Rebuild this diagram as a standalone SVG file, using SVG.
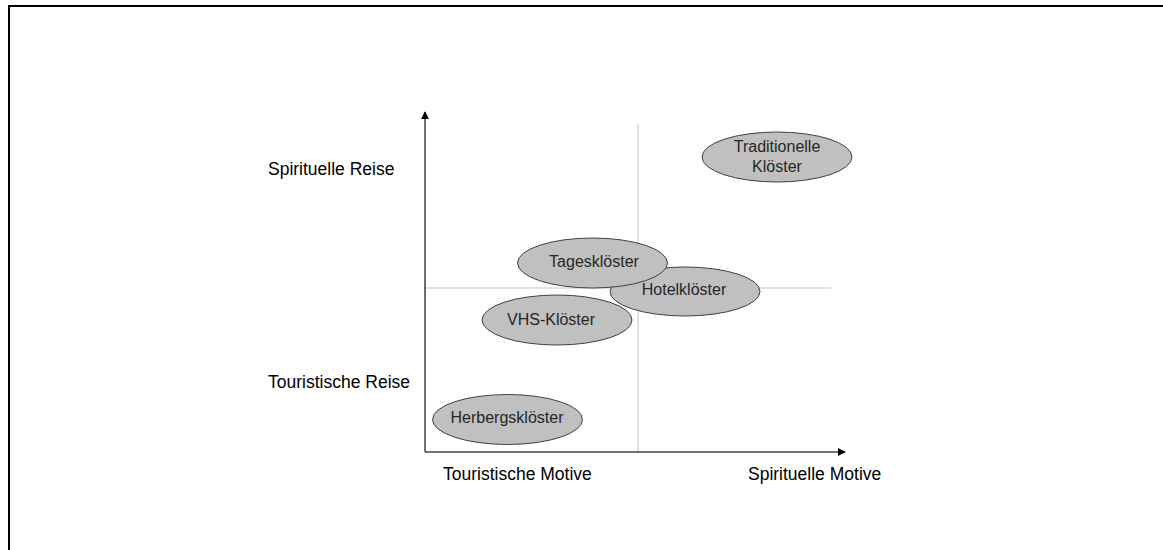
<svg xmlns="http://www.w3.org/2000/svg" width="1163" height="550" viewBox="0 0 1163 550">
<style>
.frame{stroke:#000;stroke-width:2;fill:none}
.grid{stroke:#c8c8c8;stroke-width:1;fill:none}
.axis{stroke:#404040;stroke-width:1.5;fill:none}
.node ellipse{fill:#c0c0c0;stroke:#404040;stroke-width:1}
.node text{font-family:"Liberation Sans",Arial,sans-serif;font-size:16px;fill:#262626;text-anchor:middle}
.lbl{font-family:"Liberation Sans",Arial,sans-serif;font-size:17.5px;fill:#000}
</style>
<defs>
<marker id="arr" viewBox="0 0 10 10" refX="9" refY="5" markerWidth="8" markerHeight="8" markerUnits="userSpaceOnUse" orient="auto">
<path d="M0,0 L10,5 L0,10 z" fill="#000"/>
</marker>
</defs>
<rect width="1163" height="550" fill="#fff"/>
<path class="frame" d="M9,550 L9,6 L1163,6"/>
<g id="connectors">
<line class="grid" x1="638" y1="124" x2="638" y2="452"/>
<line class="grid" x1="425" y1="288" x2="831" y2="288"/>
<line class="axis" x1="425" y1="452" x2="425" y2="112" marker-end="url(#arr)"/>
<line class="axis" x1="425" y1="452" x2="845" y2="452" marker-end="url(#arr)"/>
</g>
<g id="labels">
<text class="lbl" x="268" y="175">Spirituelle Reise</text>
<text class="lbl" x="268" y="388">Touristische Reise</text>
<text class="lbl" x="443" y="480">Touristische Motive</text>
<text class="lbl" x="748" y="480">Spirituelle Motive</text>
</g>
<g id="n-traditionelle" class="node">
<ellipse cx="777" cy="157" rx="75" ry="25"/>
<text x="777" y="152">Traditionelle</text>
<text x="777" y="172">Klöster</text>
</g>
<g id="n-hotel" class="node">
<ellipse cx="685" cy="291.5" rx="75" ry="24.5"/>
<text x="684" y="295">Hotelklöster</text>
</g>
<g id="n-tages" class="node">
<ellipse cx="592.5" cy="263" rx="75" ry="25"/>
<text x="594" y="267">Tagesklöster</text>
</g>
<g id="n-vhs" class="node">
<ellipse cx="557" cy="320" rx="75" ry="25"/>
<text x="551" y="325">VHS-Klöster</text>
</g>
<g id="n-herberg" class="node">
<ellipse cx="507.5" cy="419.5" rx="75" ry="25"/>
<text x="507" y="423">Herbergsklöster</text>
</g>
</svg>
